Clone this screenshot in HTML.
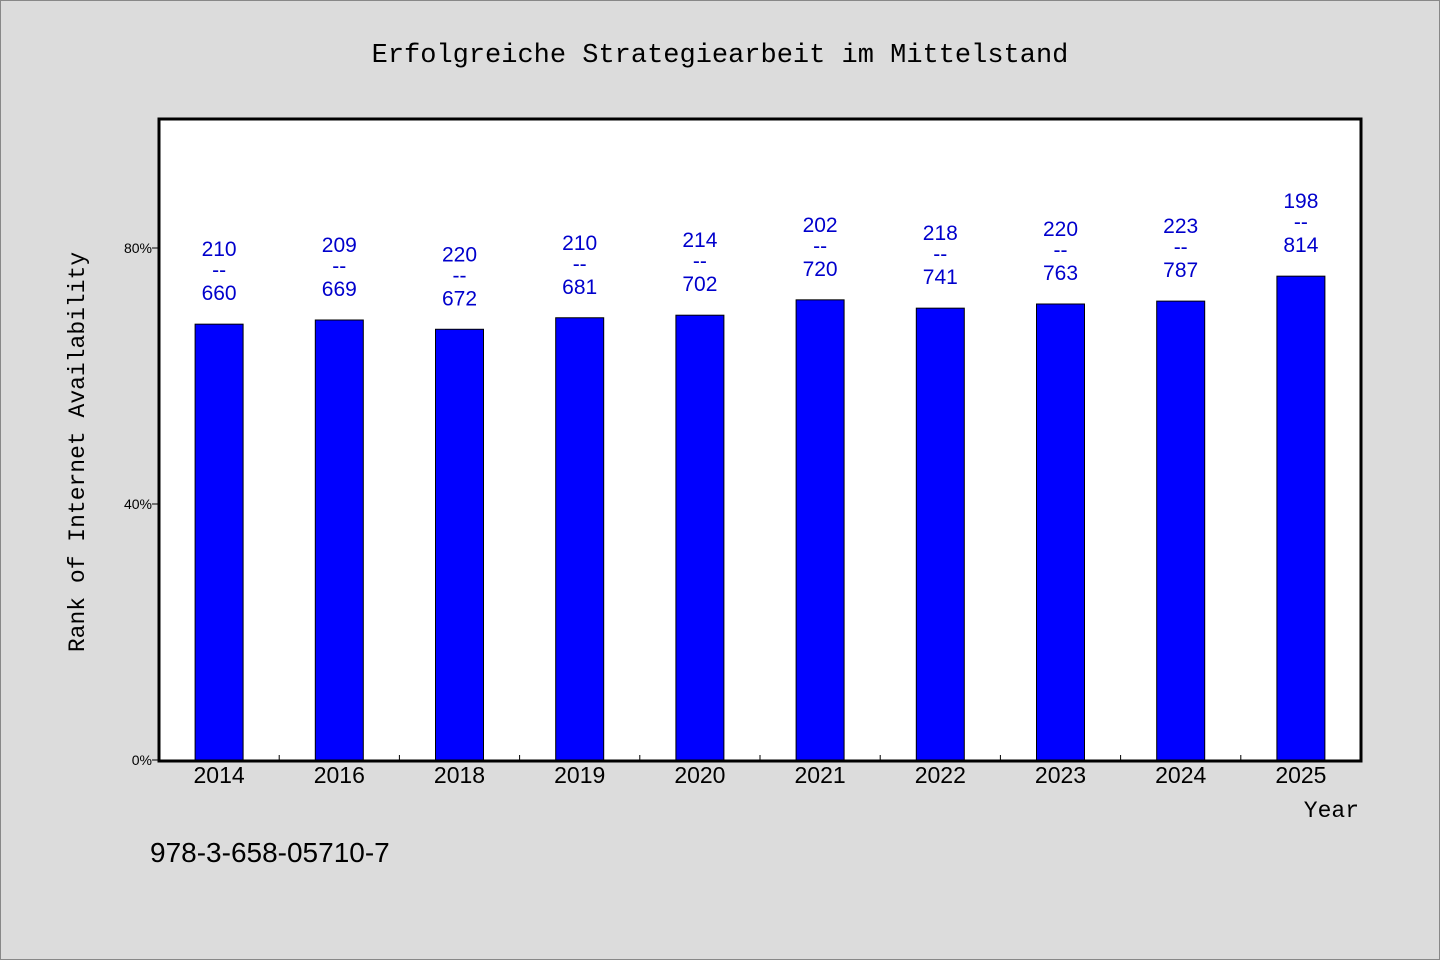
<!DOCTYPE html>
<html><head><meta charset="utf-8"><style>
html,body{margin:0;padding:0;background:#dcdcdc;}
svg{display:block;}
text{font-family:"WenQuanYi Zen Hei","Liberation Sans",sans-serif;}
.mono{font-family:"Liberation Mono","WenQuanYi Zen Hei Mono",monospace;}
</style></head><body>
<svg id="chart" width="1440" height="960">
<rect x="0.5" y="0.5" width="1439" height="959" fill="#dcdcdc" stroke="#888"/>
<text x="720" y="62" text-anchor="middle" font-size="27" class="mono">Erfolgreiche Strategiearbeit im Mittelstand</text>
<rect x="159" y="119" width="1202" height="642" fill="#fff" stroke="#000" stroke-width="3"/>
<g id="bars"></g>
<g id="axes"></g>
<text transform="translate(84,452) rotate(-90)" text-anchor="middle" font-size="23" class="mono">Rank of Internet Availability</text>
<text x="1359" y="817" text-anchor="end" font-size="23" class="mono">Year</text>
<text x="150" y="862" font-size="28">978-3-658-05710-7</text>
</svg>
<script>
const categories = ["2014","2016","2018","2019","2020","2021","2022","2023","2024","2025"];
const values = [68.1,68.75,67.3,69.1,69.5,71.9,70.6,71.25,71.7,75.6];
const topLabels = ["210","209","220","210","214","202","218","220","223","198"];
const bottomLabels = ["660","669","672","681","702","720","741","763","787","814"];
const yTicks = [0,40,80];
const NS="http://www.w3.org/2000/svg";
const x0=159,x1=1361,y0=760,yTop=119;
const step=(x1-x0)/categories.length;
function xc(i){return x0+step*(i+0.5);}
function y(v){return y0-v*6.4;}
const bars=document.getElementById('bars'),axes=document.getElementById('axes');
function mk(tag,attrs,parent,txt){const e=document.createElementNS(NS,tag);for(const k in attrs)e.setAttribute(k,attrs[k]);if(txt!==undefined)e.textContent=txt;parent.appendChild(e);return e;}
categories.forEach((c,i)=>{
  const cx=xc(i),ty=y(values[i]);
  const r=mk('rect',{x:cx-24,y:ty,width:48,height:y0-ty,fill:'#0000ff',stroke:'#000','stroke-width':1},bars);
  
  
  const t1=mk('text',{x:cx,y:ty-68,'text-anchor':'middle','font-size':21,fill:'#0000cc'},bars,topLabels[i]);
  
  
  const t2=mk('text',{x:cx,y:ty-47,'text-anchor':'middle','font-size':21,fill:'#0000cc'},bars,'--');
  
  
  const t3=mk('text',{x:cx,y:ty-24,'text-anchor':'middle','font-size':21,fill:'#0000cc'},bars,bottomLabels[i]);
  
  
  const xl=mk('text',{x:cx,y:783,'text-anchor':'middle','font-size':23},axes,c);
  
  
  if(i>0){const tk=mk('line',{x1:x0+step*i,x2:x0+step*i,y1:761,y2:755,stroke:'#000'},axes);
  
  }
});
yTicks.forEach(v=>{
  const yy=y(v);
  const l=mk('line',{x1:152,x2:159,y1:yy,y2:yy,stroke:'#000'},axes);
  
  
  const t=mk('text',{x:152,y:yy+5,'text-anchor':'end','font-size':14},axes,v+'%');
  
  
});
</script>
</body></html>
